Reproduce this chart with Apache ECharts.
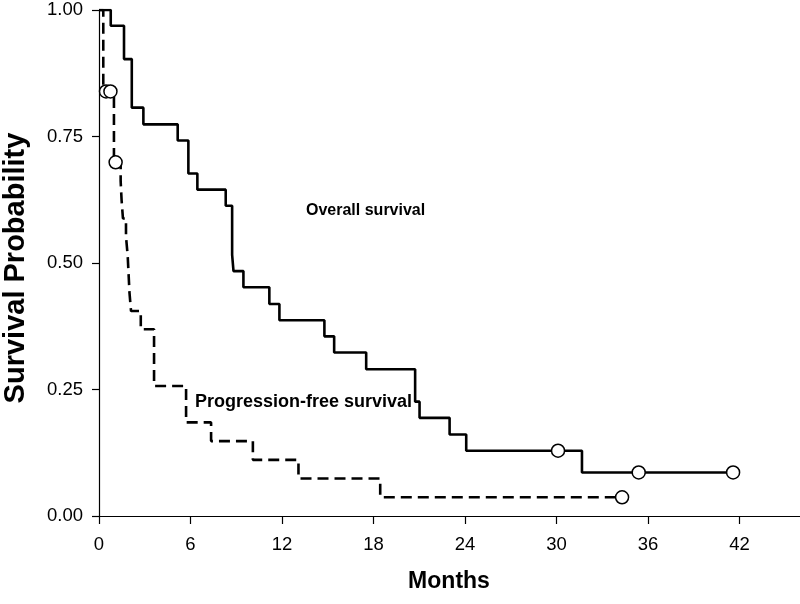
<!DOCTYPE html>
<html>
<head>
<meta charset="utf-8">
<script src="https://cdn.jsdelivr.net/npm/echarts@6/dist/echarts.min.js"></script>
<style>
html,body{margin:0;padding:0;background:#fff;}
#chart{width:800px;height:604px;}
</style>
</head>
<body>
<div id="chart"></div>
<script>
// Overall survival (solid): event times (months) and survival after each step
var osTime = [0, 0.77, 1.64, 2.15, 2.91, 5.16, 5.86, 6.45, 8.31, 8.73, 8.82, 9.47, 11.17, 11.83, 14.78, 15.42, 17.52, 20.73, 21.02, 22.99, 24.08, 31.67, 41.58];
var osSurv = [1, 0.969, 0.903, 0.807, 0.774, 0.742, 0.677, 0.645, 0.613, 0.516, 0.484, 0.452, 0.419, 0.387, 0.355, 0.323, 0.290, 0.226, 0.194, 0.161, 0.129, 0.086, 0.086];
var osCensorTime = [30.1, 35.39, 41.58];
var osCensorSurv = [0.129, 0.086, 0.086];

// Progression-free survival (dashed)
var pfsTime = [0, 0.28, 0.98, 1.42, 1.48, 1.57, 1.77, 1.88, 1.94, 2.00, 2.10, 2.74, 3.61, 5.71, 7.35, 10.09, 13.08, 18.44, 34.3];
var pfsSurv = [1, 0.839, 0.699, 0.662, 0.625, 0.588, 0.552, 0.515, 0.478, 0.441, 0.405, 0.369, 0.257, 0.185, 0.148, 0.111, 0.074, 0.037, 0.037];
var pfsCensorTime = [0.46, 0.75, 1.09, 34.3];
var pfsCensorSurv = [0.839, 0.839, 0.699, 0.037];

var xTicks = [0, 6, 12, 18, 24, 30, 36, 42];
var yTicks = [0, 0.25, 0.5, 0.75, 1];

function zip(a, b) { return a.map(function (v, i) { return [v, b[i]]; }); }

var FONT = 'Liberation Sans, Arial, sans-serif';
var chart = echarts.init(document.getElementById('chart'), null, {renderer: 'canvas'});

chart.setOption({
  animation: false,
  backgroundColor: '#fff',
  grid: {left: 99, top: 10, right: -31, bottom: 88, containLabel: false, outerBoundsMode: 'none'},
  xAxis: {
    type: 'value', min: 0, max: 48, interval: 6,
    name: 'Months', nameLocation: 'middle', nameGap: 54,
    nameTextStyle: {fontFamily: FONT, fontWeight: 'bold', fontSize: 23, color: '#000', padding: [0, 32, 0, 0]},
    axisLine: {show: true, onZero: false, lineStyle: {color: '#000', width: 1.2}},
    axisTick: {show: true, inside: false, length: 8, lineStyle: {color: '#000', width: 1.2}},
    axisLabel: {
      fontFamily: FONT, fontSize: 18.5, color: '#000', margin: 19,
      formatter: function (v) { return xTicks.indexOf(v) >= 0 ? String(v) : ''; }
    },
    splitLine: {show: false}
  },
  yAxis: {
    type: 'value', min: 0, max: 1, interval: 0.25,
    name: 'Survival Probability', nameLocation: 'middle', nameGap: 69, nameRotate: 90,
    nameTextStyle: {fontFamily: FONT, fontWeight: 'bold', fontSize: 29, color: '#000', padding: [0, 10, 0, 0]},
    axisLine: {show: true, lineStyle: {color: '#000', width: 1.2}},
    axisTick: {show: true, inside: false, length: 7, lineStyle: {color: '#000', width: 1.2}},
    axisLabel: {
      fontFamily: FONT, fontSize: 18.5, color: '#000', margin: 16,
      formatter: function (v) { return yTicks.indexOf(v) >= 0 ? v.toFixed(2) : ''; }
    },
    splitLine: {show: false}
  },
  series: [
    {
      name: 'Overall survival', type: 'line', step: 'end', showSymbol: false, symbol: 'none',
      data: zip(osTime, osSurv),
      lineStyle: {color: '#000', width: 2.6, type: 'solid'}, z: 2
    },
    {
      name: 'Progression-free survival', type: 'line', step: 'end', showSymbol: false, symbol: 'none',
      data: zip(pfsTime, pfsSurv),
      lineStyle: {color: '#000', width: 2.6, type: [11, 6]}, z: 2
    },
    {
      name: 'OS censored', type: 'scatter', symbol: 'circle', symbolSize: 13,
      data: zip(osCensorTime, osCensorSurv),
      itemStyle: {color: '#fff', borderColor: '#000', borderWidth: 1.5, opacity: 1}, z: 5
    },
    {
      name: 'PFS censored', type: 'scatter', symbol: 'circle', symbolSize: 13,
      data: zip(pfsCensorTime, pfsCensorSurv),
      itemStyle: {color: '#fff', borderColor: '#000', borderWidth: 1.5, opacity: 1}, z: 5
    }
  ],
  graphic: [
    {type: 'text', left: 306, top: 203, z: 10,
     style: {text: 'Overall survival', font: 'bold 16px ' + FONT, fill: '#000'}},
    {type: 'text', left: 195, top: 393, z: 10,
     style: {text: 'Progression-free survival', font: 'bold 18px ' + FONT, fill: '#000'}}
  ]
});
</script>
</body>
</html>
